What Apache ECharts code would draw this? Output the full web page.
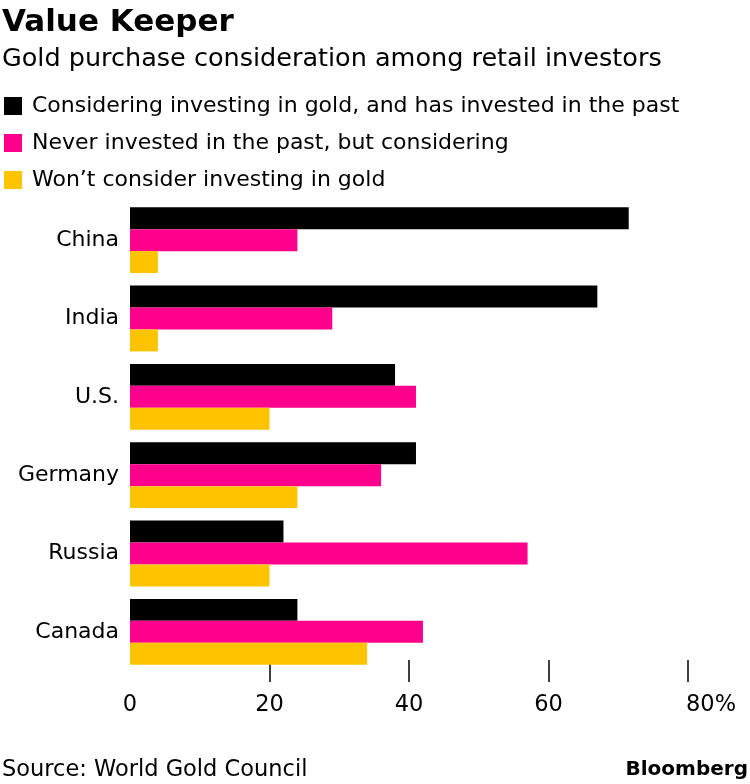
<!DOCTYPE html>
<html><head><meta charset="utf-8">
<script src="https://cdn.jsdelivr.net/npm/echarts@6/dist/echarts.min.js"></script>
<style>html,body{margin:0;padding:0;background:#fff}#c{width:750px;height:784px}</style>
</head><body><div id="c"></div>
<script>
const categories = ['China','India','U.S.','Germany','Russia','Canada'];
const seriesNames = ['Considering investing in gold, and has invested in the past','Never invested in the past, but considering','Won\u2019t consider investing in gold'];
const invested = [71.5, 67, 38, 41, 22, 24];
const neverConsidering = [24, 29, 41, 36, 57, 42];
const wontConsider = [4, 4, 20, 24, 20, 34];
const tickValues = [20, 40, 60, 80];
const colors = ['#000000', '#ff008c', '#ffc300'];
const F = '"DejaVu Sans", "Liberation Sans", sans-serif';

const chart = echarts.init(document.getElementById('c'));
const data = [invested, neverConsidering, wontConsider];
chart.setOption({
  animation: false,
  textStyle: {fontFamily: F},
  title: [
    {text: 'Value Keeper', left: 2, top: 7, padding: 0, textStyle: {fontFamily: F, fontSize: 31, fontWeight: 'bold', color: '#000'}},
    {text: 'Gold purchase consideration among retail investors', left: 2, top: 46, padding: 0, textStyle: {fontFamily: F, fontSize: 25.5, fontWeight: 'normal', color: '#000'}},
    {text: 'Source: World Gold Council', left: 2, top: 759, padding: 0, textStyle: {fontFamily: F, fontSize: 22.5, fontWeight: 'normal', color: '#000'}},
    {text: 'Bloomberg', right: 2, top: 760, padding: 0, textStyle: {fontFamily: F, fontSize: 20, fontWeight: 'bold', color: '#000'}}
  ],
  legend: {
    orient: 'vertical', left: 4, top: 95, padding: 0, itemWidth: 18, itemHeight: 18, itemGap: 15,
    icon: 'rect', selectedMode: false,
    textStyle: {fontFamily: F, fontSize: 22, color: '#000', padding: [0,0,0,5]},
    data: seriesNames
  },
  grid: {left: 130, right: 62, top: 201, bottom: 113, containLabel: false},
  xAxis: {
    type: 'value', min: 0, max: 80, interval: 20, offset: 11,
    splitLine: {show: false},
    axisLine: {show: false},
    axisTick: {show: true, inside: true, length: 22, customValues: tickValues, lineStyle: {color: '#000', width: 1.5}},
    axisLabel: {
      fontFamily: F, fontSize: 22.5, color: '#000', margin: 12,
      formatter: v => v === 80 ? '{p|80%}' : String(v),
      rich: {p: {fontFamily: F, fontSize: 22.5, color: '#000', padding: [0,0,0,46]}}
    }
  },
  yAxis: {
    type: 'category', data: categories, inverse: true,
    axisLine: {show: false}, axisTick: {show: false},
    axisLabel: {fontFamily: F, fontSize: 22, color: '#000', margin: 11}
  },
  series: seriesNames.map((n, i) => ({
    name: n, type: 'bar', data: data[i], barGap: '0%', barCategoryGap: '16%',
    itemStyle: {color: colors[i]}
  }))
});
</script></body></html>
